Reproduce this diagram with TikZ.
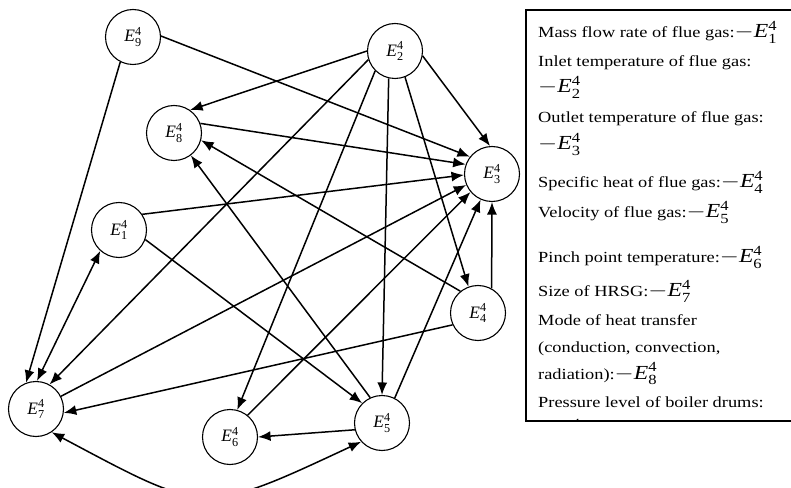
\documentclass[tikz,border=0pt]{standalone}
\usepackage{fontspec}
\setmainfont{Liberation Serif}
\usetikzlibrary{arrows.meta}
\newcommand\Ecirc[1]{\textit{E}${}^{\mathrm{4}}_{\mathrm{#1}}$}
\newcommand\Eb[1]{{\fontsize{20}{24}\selectfont$-$\textit{E}${}^{\mathrm{4}}_{\mathrm{#1}}$}}
\newcommand\boxline[1]{\scalebox{1.19}[1]{#1}}
\begin{document}
\begin{tikzpicture}[x=1bp,y=-1bp,
  vnode/.style={circle,draw,line width=1.1bp,minimum size=55bp,inner sep=0pt,
    font=\fontsize{17.5}{19}\selectfont},
  edge/.style={line width=1.5bp,-{Latex[length=12.5bp,width=10bp]}},
  bedge/.style={line width=1.5bp,{Latex[length=12.5bp,width=10bp]}-{Latex[length=12.5bp,width=10bp]}},
  txt/.style={anchor=base west,inner sep=0pt,font=\fontsize{15.5}{18}\selectfont}]
\useasboundingbox (0,0) rectangle (791,488);
\clip (0,0) rectangle (791,488);

% nodes
\node[vnode] (e9) at (133,37) {\Ecirc{9}};
\node[vnode] (e2) at (395,51) {\Ecirc{2}};
\node[vnode] (e8) at (174,133) {\Ecirc{8}};
\node[vnode] (e3) at (492,174) {\Ecirc{3}};
\node[vnode] (e1) at (119,230) {\Ecirc{1}};
\node[vnode] (e4) at (478,313) {\Ecirc{4}};
\node[vnode] (e7) at (36,409) {\Ecirc{7}};
\node[vnode] (e6) at (230,437) {\Ecirc{6}};
\node[vnode] (e5) at (382,423) {\Ecirc{5}};

% edges
\draw[edge] (e9.2) -- (e3.142);
\draw[edge] (e9.243) -- (e7.111);
\draw[edge] (e2.180) -- (e8.55);
\draw[edge] (e2.-10) -- (e3.94);
\draw[edge] (e2.198) -- (e7.61);
\draw[edge] (e2.225) -- (e6.75);
\draw[edge] (e2.257) -- (e5.90);
\draw[edge] (e2.291) -- (e4.110);
\draw[edge] (e8.20) -- (e3.160);
\draw[edge] (e1.34) -- (e3.182);
\draw[bedge] (e1.228) -- (e7.88);
\draw[edge] (e1.-20) -- (e5.135);
\draw[edge] (e7.27) -- (e3.203);
\draw[edge] (e6.51) -- (e3.220);
\draw[edge] (e5.63) -- (e3.246);
\draw[edge] (e4.61) -- (e3.270);
\draw[edge] (e4.205) -- (e7.-8);
\draw[edge] (e4.129) -- (e8.-15);
\draw[edge] (e5.115) -- (e8.-53);
\draw[edge] (e5.194) -- (e6.0);
\draw[bedge] (e7.-56) to[out=-28,in=205,looseness=1.45] (e5.222);

% legend box
\begin{scope}
\clip (526,10) rectangle (800,421);
\node[txt] (l1) at (538,38) {\boxline{Mass flow rate of flue gas:\Eb{1}}};
\node[txt] (l2) at (538,67) {\boxline{Inlet temperature of flue gas:}};
\node[txt] (l3) at (538,93) {\boxline{\Eb{2}}};
\node[txt] (l4) at (538,123) {\boxline{Outlet temperature of flue gas:}};
\node[txt] (l5) at (538,150) {\boxline{\Eb{3}}};
\node[txt] (l6) at (538,188) {\boxline{Specific heat of flue gas:\Eb{4}}};
\node[txt] (l7) at (538,218) {\boxline{Velocity of flue gas:\Eb{5}}};
\node[txt] (l8) at (538,263) {\boxline{Pinch point temperature:\Eb{6}}};
\node[txt] (l9) at (538,297) {\boxline{Size of HRSG:\Eb{7}}};
\node[txt] (l10) at (538,325) {\boxline{Mode of heat transfer}};
\node[txt] (l11) at (538,352) {\boxline{(conduction, convection,}};
\node[txt] (l12) at (538,379) {\boxline{radiation):\Eb{8}}};
\node[txt] (l13) at (538,407) {\boxline{Pressure level of boiler drums:}};
\node[txt] (l14) at (538,436) {\boxline{\Eb{9}}};
\end{scope}
\draw[line width=1.5bp] (526,10) rectangle (800,421);
\end{tikzpicture}
\end{document}
